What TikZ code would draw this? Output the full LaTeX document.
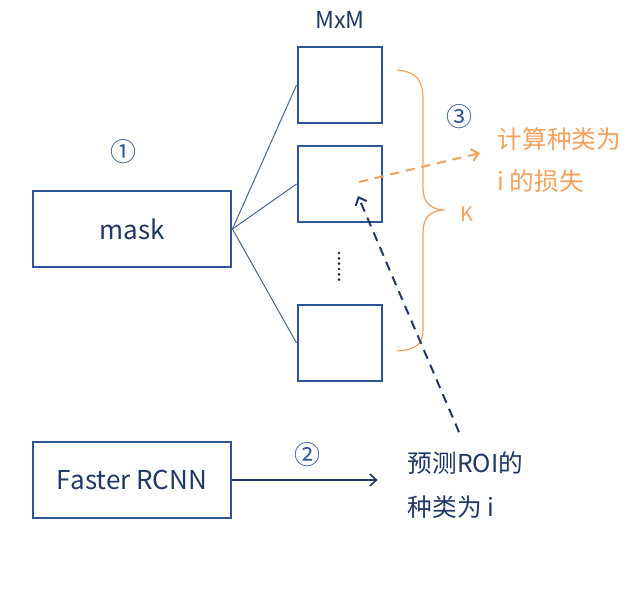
\documentclass[tikz,border=0pt]{standalone}
\usepackage{fontspec}
\setmainfont{Noto Sans CJK SC}
\usepackage{xcolor}
\usetikzlibrary{arrows.meta, positioning}
\definecolor{boxblue}{HTML}{2F5597}
\definecolor{textblue}{HTML}{1F3864}
\definecolor{wireblue}{HTML}{4A6490}
\definecolor{lossorange}{HTML}{F4A15D}
\tikzset{
    stage/.style={rectangle, draw=boxblue, line width=2.2pt, minimum width=148.5pt, minimum height=57pt, text=textblue, font=\fontsize{19.5}{23}\selectfont},
    cell/.style={rectangle, draw=boxblue, line width=2.2pt, minimum width=63pt, minimum height=57pt},
    plain/.style={text=textblue, font=\fontsize{17.5}{21}\selectfont},
    circnum/.style={text=boxblue, font=\fontsize{19.5}{23}\selectfont},
    wire/.style={draw=wireblue, line width=0.75pt},
    flow/.style={-{Straight Barb[length=5pt, width=9pt]}, draw=textblue, line width=1.2pt},
    pick/.style={-{Straight Barb[length=5pt, width=9pt]}, draw=textblue, line width=1.5pt, dash pattern=on 7pt off 5pt},
    lossline/.style={-{Straight Barb[length=5pt, width=9pt]}, draw=lossorange, line width=1.5pt, dash pattern=on 7pt off 5pt}
}

\begin{document}
\begin{tikzpicture}[x=0.75pt, y=-0.75pt]
  \useasboundingbox (0,0) rectangle (640,605);
  % left stages
  \node[stage] (mask) at (132,229) {mask};
  \node[stage] (frcnn) at (132,480) {Faster RCNN};
  \node[circnum] (n1) at (123,152) {①};
  % K mask cells
  \node[cell] (m1) at (340,85) {};
  \node[cell] (m2) at (340,184) {};
  \node[cell] (m3) at (340,343) {};
  \node[plain, above=9pt of m1] (mxm) {MxM};
  \draw[black!85, line width=2.2pt, line cap=round, dash pattern=on 0pt off 4pt] (339,253) -- (339,280);
  \draw[wire] (mask.east) -- (m1.west);
  \draw[wire] (mask.east) -- (m2.west);
  \draw[wire] (mask.east) -- (m3.west);
  % brace for K
  \draw[lossorange, line width=0.9pt] (397,70) .. controls (417,72) and (423,80) .. (423,100) -- (423,188)
    .. controls (423,202) and (430,209) .. (443,210) .. controls (430,211) and (423,218) .. (423,232)
    -- (423,330) .. controls (423,343) and (417,350) .. (397,351);
  \node[text=lossorange, font=\fontsize{15}{18}\selectfont] (kk) at (467,214) {K};
  \node[circnum] (n3) at (459,117) {③};
  \node[text=lossorange, font=\fontsize{18.5}{31.5}\selectfont, align=left, anchor=west] (loss) at (493,160) {计算种类为\\i 的损失};
  \coordinate (lossfrom) at (359,182);
  \coordinate (lossto) at (480,153);
  \draw[lossline] (lossfrom) -- (lossto);
  % class prediction
  \node[text=textblue, font=\fontsize{18.5}{33}\selectfont, align=left, anchor=west] (pred) at (403,485) {预测ROI的\\种类为 i};
  \node[circnum] (n2) at (307,455) {②};
  \draw[flow, shorten >=19pt] (frcnn.east) -- (frcnn.east -| pred.west);
  \coordinate (hit) at (358,196);
  \draw[pick, shorten <=12pt] (pred.north) -- (hit);
\end{tikzpicture}
\end{document}
